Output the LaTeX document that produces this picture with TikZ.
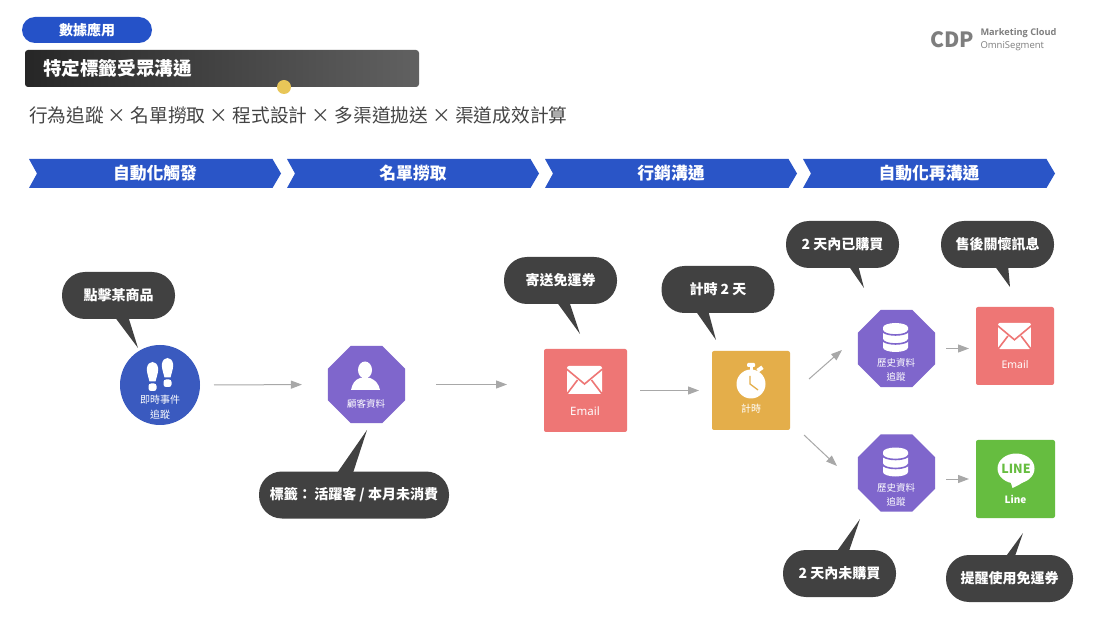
\documentclass[tikz,border=0pt]{standalone}
\usepackage{fontspec}
\usetikzlibrary{shapes.geometric,arrows.meta,calc}
\setmainfont{Noto Sans CJK TC}
\newfontfamily\latinf{Noto Sans}
\newfontfamily\logof{Open Sans}
\definecolor{pillblue}{HTML}{2552C8}
\definecolor{chevblue}{HTML}{2A55C7}
\definecolor{gold}{HTML}{E8C658}
\definecolor{circblue}{HTML}{3A5ABF}
\definecolor{octpurple}{HTML}{7F66CC}
\definecolor{pinkbox}{HTML}{EE7675}
\definecolor{orangebox}{HTML}{E4AE4A}
\definecolor{greenbox}{HTML}{66BD40}
\definecolor{bubblegrey}{HTML}{414141}
\definecolor{flowgrey}{HTML}{A8A8A8}
\definecolor{logogrey}{HTML}{7E7E7E}
\definecolor{subgrey}{HTML}{444444}
\newcommand\tfs[1]{\fontsize{#1}{#1}\selectfont}
\tikzset{
  x=1pt,y=-1pt,
  every node/.style={inner sep=0pt,outer sep=0pt},
  flow/.style={draw=flowgrey,line width=1pt,-{Triangle[length=11pt,width=8pt]}},
  whitelabel/.style={text=white,font=\tfs{#1},align=center},
  whitelabel/.default=10,
  boldlabel/.style={text=white,font=\bfseries\tfs{#1},align=center},
  octa/.style={regular polygon,regular polygon sides=8,minimum size=83.4pt,fill=octpurple},
  bigbox/.style={rectangle,rounded corners=2pt,fill=#1},
  bubblebody/.style={rectangle,rounded corners=23pt,fill=bubblegrey,minimum height=47pt,text=white,font=\bfseries\tfs{14}},
}
% name, cx, cy, width, base1, base2, tip, text
\newcommand\speech[8]{%
  \fill[bubblegrey] (#5) -- (#7) -- (#6) -- cycle;
  \node[bubblebody,minimum width=#4pt] (#1) at (#2,#3) {#8};
}
\newcommand\chevron[3]{%
  \fill[chevblue] (#1,159) -- ++(243.5,0) -- ++(8.5,14.5) -- ++(-8.5,14.5) -- ++(-243.5,0) -- ++(8,-14.5) -- cycle;
  \node[boldlabel=16.8] (#2) at (#1+126,173.5) {#3};
}
% envelope: centre x, centre y, scale
\newcommand\envelope[3]{%
  \begin{scope}[shift={(#1,#2)},scale=#3]
    \fill[white,rounded corners=2pt] (-17.5,-14) rectangle (17.5,14);
    \draw[pinkbox,line width=1.6pt] (-18,-11) -- (0,4) -- (18,-11);
    \draw[pinkbox,line width=1.6pt] (-18,14.5) -- (-7,0);
    \draw[pinkbox,line width=1.6pt] (18,14.5) -- (7,0);
  \end{scope}
}
% database: centre x, centre y
\newcommand\dbicon[2]{%
  \begin{scope}[shift={(#1,#2)}]
    \fill[white] (-12.5,-10) arc[start angle=180,end angle=360,x radius=12.5,y radius=4.5] -- (12.5,10) arc[start angle=0,end angle=180,x radius=12.5,y radius=4.5] -- cycle;
    \draw[octpurple,line width=1.6pt] (-13,-7) arc[start angle=180,end angle=0,x radius=13,y radius=4.5];
    \draw[octpurple,line width=1.6pt] (-13,2) arc[start angle=180,end angle=0,x radius=13,y radius=4.5];
  \end{scope}
}
% shoe print: centre x, top y
\newcommand\shoe[2]{%
  \begin{scope}[shift={(#1,#2)}]
    \fill[white] (-3,19.5) .. controls (-5,12) and (-6,9) .. (-5.6,6) .. controls (-5,2) and (-2.5,0) .. (0,0) .. controls (2.5,0) and (5,2) .. (5.6,6) .. controls (6,9) and (5,12) .. (3,19.5) -- cycle;
    \fill[white,rounded corners=2.5pt] (-4,21.5) rectangle (4,29);
  \end{scope}
}
\begin{document}
\begin{tikzpicture}
\useasboundingbox (0,0) rectangle (1120,628);
\fill[white] (0,0) rectangle (1120,628);

% header
\node[rectangle,rounded corners=13pt,fill=pillblue,minimum width=130pt,minimum height=26pt,boldlabel=14] (tag) at (87,30) {數據應用};
\shade[left color=black!85,right color=black!62,rounded corners=3pt] (25,50) rectangle (419,87);
\node[boldlabel=18.6,anchor=west] (title) at (43,68) {特定標籤受眾溝通};
\fill[gold] (284,87) circle[radius=7];
\node[anchor=west,text=subgrey,font=\tfs{18.7}] (subtitle) at (29,115) {行為追蹤 × 名單撈取 × 程式設計 × 多渠道拋送 × 渠道成效計算};

% logo
\node[anchor=west,text=logogrey,font=\bfseries\tfs{21}] (cdp) at (930,40) {CDP};
\node[anchor=west,text=logogrey,font=\logof\bfseries\tfs{9.2}] (mc) at (980.5,33.5) {Marketing Cloud};
\node[anchor=west,text=logogrey,font=\logof\tfs{9.5}] (omni) at (980.5,46) {OmniSegment};

% stage chevrons
\chevron{29}{stagea}{自動化觸發}
\chevron{287}{stageb}{名單撈取}
\chevron{545}{stagec}{行銷溝通}
\chevron{803}{staged}{自動化再溝通}

% main nodes
\node[circle,fill=circblue,minimum size=80pt] (track) at (160,385) {};
\node[octa] (cust) at (366.5,384.5) {};
\node[bigbox=pinkbox,minimum width=83pt,minimum height=83pt] (mail) at (585.5,390.5) {};
\node[bigbox=orangebox,minimum width=78pt,minimum height=79pt] (timer) at (751,390.5) {};
\node[octa] (hista) at (896.5,348.5) {};
\node[octa] (histb) at (896.5,473) {};
\node[bigbox=pinkbox,minimum width=78pt,minimum height=78pt] (mailb) at (1015,346) {};
\node[bigbox=greenbox,minimum width=79pt,minimum height=78pt] (line) at (1015.5,479) {};

% footprints
\shoe{152.5}{362}
\shoe{167.5}{358}
\node[whitelabel=10] (tracka) at (160,400) {即時事件};
\node[whitelabel=10] (trackb) at (160,414.5) {追蹤};

% person
\fill[white] (365,370) ellipse[x radius=7,y radius=8.5];
\fill[white] (351,390) .. controls (352.5,383) and (355,380) .. (360,378) -- (370,378) .. controls (375,380) and (378.5,383) .. (380,390) -- cycle;
\node[whitelabel=9.5] (custlabel) at (366,404) {顧客資料};

% mail contents
\envelope{584.5}{380}{1}
\node[text=white,font=\latinf\tfs{11.5}] (maillabel) at (585,411) {Email};
\envelope{1014.5}{336}{0.94}
\node[text=white,font=\latinf\tfs{10.5}] (mailblabel) at (1015,365) {Email};

% timer
\fill[white] (751,384) circle[radius=14.5];
\fill[white,rounded corners=1pt] (747,363) rectangle (755,367);
\fill[white] (750,366) rectangle (752.5,371);
\fill[white,rotate around={35:(760,369)}] (757,367) rectangle (763,371);
\draw[orangebox,line width=1.3pt] (750,376) -- (750,384) -- (758,390);
\node[whitelabel=10] (timerlabel) at (751,409) {計時};

% databases
\dbicon{895.5}{337.5}
\node[whitelabel=9.5] (histaa) at (896,363) {歷史資料};
\node[whitelabel=9.5] (histab) at (896,377) {追蹤};
\dbicon{895.5}{462}
\node[whitelabel=9.5] (histba) at (896,488) {歷史資料};
\node[whitelabel=9.5] (histbb) at (896,502) {追蹤};

% LINE
\fill[white] (1016,468.5) ellipse[x radius=18.5,y radius=15];
\fill[white] (1010,480) -- (1012.5,488) .. controls (1017,486) and (1021,484) .. (1026,480) -- cycle;
\node[text=greenbox,font=\bfseries\tfs{12.5}] (linelogo) at (1016,468.5) {LINE};
\node[text=white,font=\bfseries\tfs{10}] (linelabel) at (1015.5,499) {Line};

% connectors
\draw[flow,shorten <=14pt,shorten >=26pt] (track.east) -- (cust.west);
\draw[flow,shorten <=31pt,shorten >=37pt] (cust.east) -- (mail.west |- cust.east);
\draw[flow,shorten <=13pt,shorten >=13pt] (mail.east) -- (timer.west);
\coordinate (upa) at (809,379);
\coordinate (upb) at (842,350);
\coordinate (dna) at (804,435);
\coordinate (dnb) at (837,466);
\draw[flow] (upa) -- (upb);
\draw[flow] (dna) -- (dnb);
\draw[flow,shorten <=11pt,shorten >=7pt] (hista.east) -- (mailb.west |- hista.east);
\draw[flow,shorten <=11pt,shorten >=7pt] (histb.east |- line.west) -- (line.west);

% speech bubbles
\speech{sa}{118.5}{295.5}{113}{114,316}{128,316}{138,348}{點擊某商品}
\speech{sb}{354}{495}{190}{335,476}{352,476}{367,430}{標籤：\,活躍客 / 本月未消費}
\speech{sc}{560.5}{280.5}{113}{556,301}{569,301}{580,334}{寄送免運券}
\speech{sd}{718}{289.5}{113}{695,310}{708,310}{716,340}{計時 2 天}
\speech{se}{842.5}{244.5}{113}{848,265}{858,265}{864,288}{2 天內已購買}
\speech{sf}{997.5}{244.5}{113}{994,265}{1008,265}{1010,287}{售後關懷訊息}
\speech{sg}{839.5}{573.5}{113}{835,554}{848,554}{860,519}{2 天內未購買}
\speech{sh}{1009.5}{578.5}{127}{1004,559}{1014,559}{1023,533}{提醒使用免運券}
\end{tikzpicture}
\end{document}
